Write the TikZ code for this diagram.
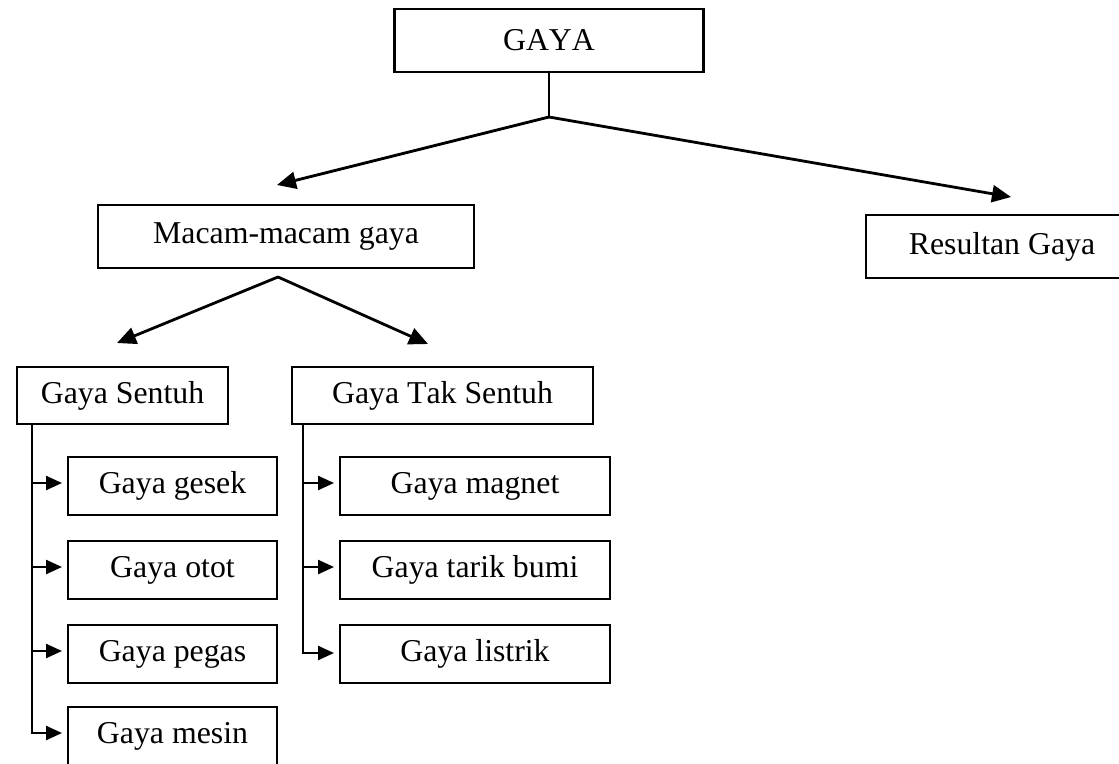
\documentclass[tikz,border=0pt]{standalone}
\usepackage{fontspec}
\setmainfont{Liberation Serif}[Kerning=Off]
\usetikzlibrary{arrows.meta,calc}
\begin{document}
\begin{tikzpicture}[x=1pt,y=-1pt,
  box/.style={draw, line width=2.2pt, inner sep=0pt, outer sep=0pt, font=\fontsize{31.8}{38}\selectfont},
  conn/.style={line width=2.8pt, line cap=round},
  bigarrow/.style={conn, -{Triangle[length=19pt,width=17pt]}},
  sidearrow/.style={line width=2.4pt, -{Triangle[length=16pt,width=14pt]}, shorten >=6pt}]
\useasboundingbox (0,0) rectangle (1119,763);
% nodes
\node[box, minimum width=309pt, minimum height=63pt] (gaya) at (549,40.5) {GAYA};
\node[box, minimum width=376pt, minimum height=63pt] (macam) at (286,236.5) {Macam-macam gaya};
\node[box, minimum width=272pt, minimum height=63pt] (resultan) at (1002,246.5) {Resultan Gaya};
\node[box, minimum width=211pt, minimum height=57pt] (sentuh) at (122.5,395.5) {Gaya Sentuh};
\node[box, minimum width=301pt, minimum height=57pt] (taksentuh) at (442.5,395.5) {Gaya Tak Sentuh};
\node[box, minimum width=209pt, minimum height=58pt] (gesek) at (172.5,486) {Gaya gesek};
\node[box, minimum width=209pt, minimum height=58pt] (otot) at (172.5,570) {Gaya otot};
\node[box, minimum width=209pt, minimum height=58pt] (pegas) at (172.5,654) {Gaya pegas};
\node[box, minimum width=209pt, minimum height=58pt] (mesin) at (172.5,736) {Gaya mesin};
\node[box, minimum width=270pt, minimum height=58pt] (magnet) at (475,486) {Gaya magnet};
\node[box, minimum width=270pt, minimum height=58pt] (tarik) at (475,570) {Gaya tarik bumi};
\node[box, minimum width=270pt, minimum height=58pt] (listrik) at (475,654) {Gaya listrik};
% coordinates
\coordinate (j1) at (549,117);
\coordinate (t1) at (277,185);
\coordinate (t2) at (1011,197);
\coordinate (j2) at (278,277);
\coordinate (t3) at (117,343);
\coordinate (t4) at (428,344);
\coordinate (sv) at ([xshift=15pt]sentuh.south west);
\coordinate (tv) at ([xshift=11pt]taksentuh.south west);
% connectors
\draw[conn] (gaya.south) -- (j1);
\draw[bigarrow] (j1) -- (t1);
\draw[bigarrow] (j1) -- (t2);
\draw[bigarrow] (j2) -- (t3);
\draw[bigarrow] (j2) -- (t4);
\draw[sidearrow] (sv) |- ($(mesin.west)+(0,-3)$);
\draw[sidearrow] ($(sv |- gesek.west)+(0,-3)$) -- ($(gesek.west)+(0,-3)$);
\draw[sidearrow] ($(sv |- otot.west)+(0,-3)$) -- ($(otot.west)+(0,-3)$);
\draw[sidearrow] ($(sv |- pegas.west)+(0,-3)$) -- ($(pegas.west)+(0,-3)$);
\draw[sidearrow] (tv) |- ($(listrik.west)+(0,-1)$);
\draw[sidearrow] ($(tv |- magnet.west)+(0,-3)$) -- ($(magnet.west)+(0,-3)$);
\draw[sidearrow] ($(tv |- tarik.west)+(0,-3)$) -- ($(tarik.west)+(0,-3)$);
\end{tikzpicture}
\end{document}
